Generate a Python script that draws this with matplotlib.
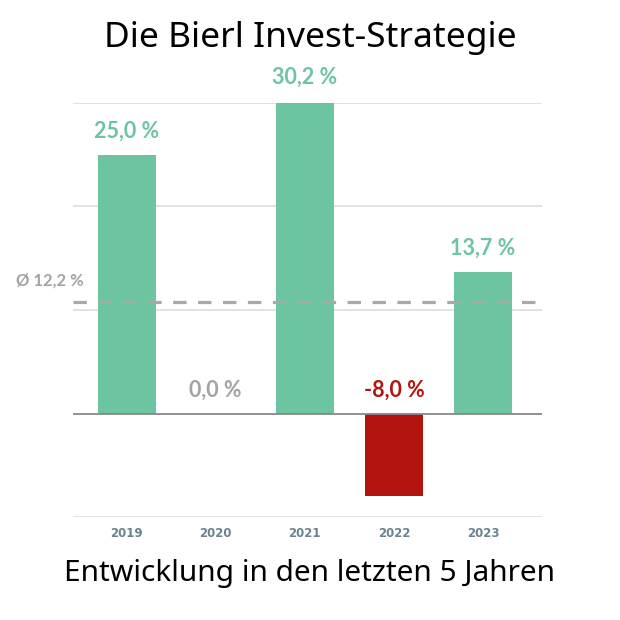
import matplotlib
matplotlib.use('Agg')
import matplotlib.pyplot as plt

# 데이터
years = ['2019', '2020', '2021', '2022', '2023']
returns = [25.0, 0.0, 30.2, -8.0, 13.7]
labels = ['25,0 %', '0,0 %', '30,2 %', '-8,0 %', '13,7 %']
avg_line = 10.8
avg_label = 'Ø 12,2 %'
grid_values = [30, 20, 10, -10]

GREEN = '#6dc4a0'
RED = '#b3140f'
GREY = '#a3a3a3'

fig = plt.figure(figsize=(6.2, 6.2), dpi=100)
ax = fig.add_axes([0.118, 0.166, 0.756, 0.668])

colors = []
text_colors = []
for v in returns:
    if v > 0:
        colors.append(GREEN)
        text_colors.append(GREEN)
    elif v < 0:
        colors.append(RED)
        text_colors.append(RED)
    else:
        colors.append(GREEN)
        text_colors.append(GREY)

x = list(range(len(years)))
ax.bar(x, returns, width=0.65, color=colors, zorder=3)

# 격자
for g in grid_values:
    ax.axhline(g, color='#dddddd', lw=1.2, zorder=1)
ax.axhline(0, color='#888888', lw=1.3, zorder=4)

# 평균선
ax.axhline(avg_line, color='#a8a8a8', lw=2.3, dashes=(4.2, 3.6), zorder=5)
ax.text(-0.48, avg_line + 2.0, avg_label, ha='right', va='center', fontsize=12,
        fontweight='bold', color=GREY, family='Lato', clip_on=False)

# 막대 라벨
for i, v in enumerate(returns):
    y = max(v, 0) + 2.3
    ax.text(i, y, labels[i], ha='center', va='center', fontsize=15.5, fontweight='bold',
            color=text_colors[i], family='Lato', clip_on=False)

ax.set_xlim(-0.6, 4.66)
ax.set_ylim(-10, 30)
ax.set_xticks(x)
ax.set_xticklabels(years, fontsize=8.5, fontweight='bold', color='#6b8290')
ax.tick_params(axis='x', length=0, pad=7)
ax.set_yticks([])
for s in ax.spines.values():
    s.set_visible(False)

fig.text(0.5, 0.938, 'Die Bierl Invest-Strategie', ha='center', va='center',
         fontsize=25.5, family='Noto Sans', color='black')
fig.text(0.5, 0.075, 'Entwicklung in den letzten 5 Jahren', ha='center', va='center',
         fontsize=21.5, family='Noto Sans', color='black')

fig.savefig('out.png', dpi=100, facecolor='white')
